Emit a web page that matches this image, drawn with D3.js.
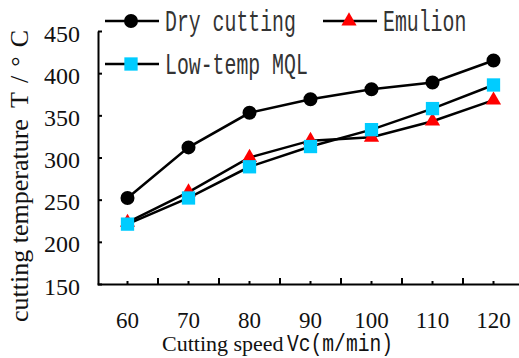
<!DOCTYPE html>
<html>
<head>
<meta charset="utf-8">
<script src="https://cdn.jsdelivr.net/npm/d3@7"></script>
<style>
  html, body { margin: 0; padding: 0; background: #fff; }
  svg { display: block; }
</style>
</head>
<body>
<svg id="chart" width="519" height="358"></svg>
<script>
// cutting speed categories (m/min)
const speeds = [60, 70, 80, 90, 100, 110, 120];
// temperatures (°C)
const dryCutting = [252, 312, 353, 369, 381, 389, 415];
const emulsion = [223, 259, 300, 320, 324, 343, 368];
const lowTempMQL = [221, 252, 289, 313, 333, 358, 386];
const yTicks = [150, 200, 250, 300, 350, 400, 450];

const series = [
  { name: 'Dry cutting', values: dryCutting, symbol: d3.symbolCircle, size: 154, color: '#000000' },
  { name: 'Emulion', values: emulsion, symbol: d3.symbolTriangle, size: 100, color: '#FF0000' },
  { name: 'Low-temp MQL', values: lowTempMQL, symbol: d3.symbolSquare, size: 177, color: '#00CCFF' }
];

const SERIF = '"Liberation Serif", "Times New Roman", serif';
const MONO = '"Liberation Mono", "Courier New", monospace';

const svg = d3.select('#chart');

const x = d3.scaleBand().domain(speeds).range([97, 524]);
const y = d3.scaleLinear().domain([150, 450]).range([284, 31]);
const cx = d => x(d) + x.bandwidth() / 2;

// --- axes ---
const yAxis = d3.axisLeft(y).tickValues(yTicks).tickSizeInner(-4).tickSizeOuter(0).tickPadding(18);
const gy = svg.append('g').attr('transform', 'translate(98,0)').call(yAxis);
gy.attr('font-family', null).attr('font-size', null);
gy.select('.domain').attr('stroke', '#000').attr('stroke-width', 2);
gy.selectAll('.tick line').attr('stroke', '#000').attr('stroke-width', 2);
gy.selectAll('.tick text')
  .attr('dy', '0.42em')
  .style('font-family', SERIF).style('font-size', '24px').attr('fill', '#111');

const xAxis = d3.axisBottom(x).tickSizeInner(-3).tickSizeOuter(0).tickPadding(0);
const gx = svg.append('g').attr('transform', 'translate(0,284)').call(xAxis);
gx.attr('font-family', null).attr('font-size', null);
gx.select('.domain').attr('stroke', '#000').attr('stroke-width', 2);
gx.selectAll('.tick line').attr('stroke', '#000').attr('stroke-width', 2);
gx.selectAll('.tick text')
  .attr('y', 44).attr('dy', 0)
  .style('font-family', SERIF).style('font-size', '23px').attr('fill', '#111');

// major ticks on category boundaries
gx.selectAll('.major-tick')
  .data(speeds)
  .enter()
  .append('line')
  .attr('class', 'major-tick')
  .attr('x1', d => x(d) + x.step()).attr('x2', d => x(d) + x.step())
  .attr('y1', 0).attr('y2', -6)
  .attr('stroke', '#000').attr('stroke-width', 2);

// --- series ---
const line = d3.line()
  .x((d, i) => cx(speeds[i]))
  .y(d => y(d));

series.forEach(s => {
  svg.append('path')
    .datum(s.values)
    .attr('d', line)
    .attr('fill', 'none')
    .attr('stroke', '#000')
    .attr('stroke-width', 2.5);
});

series.forEach(s => {
  svg.selectAll(null)
    .data(s.values)
    .enter()
    .append('path')
    .attr('d', d3.symbol().type(s.symbol).size(s.size))
    .attr('transform', (d, i) => `translate(${cx(speeds[i])},${y(d)})`)
    .attr('fill', s.color);
});

// --- legend ---
const legendPos = [
  { x: 105, y: 21 },
  { x: 323, y: 21 },
  { x: 105, y: 64 }
];
series.forEach((s, i) => {
  const p = legendPos[i];
  const g = svg.append('g').attr('transform', `translate(${p.x},${p.y})`);
  g.append('line')
    .attr('x1', 0).attr('x2', 54).attr('y1', 0).attr('y2', 0)
    .attr('stroke', '#000').attr('stroke-width', 2.5);
  g.append('path')
    .attr('d', d3.symbol().type(s.symbol).size(s.size))
    .attr('transform', 'translate(26,0)')
    .attr('fill', s.color);
  g.append('text')
    .attr('x', 60).attr('y', 10)
    .attr('textLength', s.name.length * 11.9)
    .attr('lengthAdjust', 'spacingAndGlyphs')
    .style('font-family', MONO).style('font-size', '30px').attr('fill', '#333')
    .text(s.name);
});

// --- axis titles ---
const xt = svg.append('text')
  .attr('x', 162).attr('y', 351)
  .style('font-family', SERIF).style('font-size', '22px').attr('fill', '#111');
xt.append('tspan').text('Cutting speed');
xt.append('tspan')
  .attr('x', 287)
  .attr('textLength', 106).attr('lengthAdjust', 'spacingAndGlyphs')
  .style('font-family', MONO).style('font-size', '24px')
  .text('Vc(m/min)');

const yt = svg.append('text')
  .attr('transform', 'translate(28,322) rotate(-90)')
  .style('font-family', SERIF).style('font-size', '26px').attr('fill', '#111');
yt.append('tspan').text('cutting temperature');
yt.append('tspan')
  .attr('x', 214)
  .attr('textLength', 78).attr('lengthAdjust', 'spacing')
  .text('T/°C');
</script>
</body>
</html>
